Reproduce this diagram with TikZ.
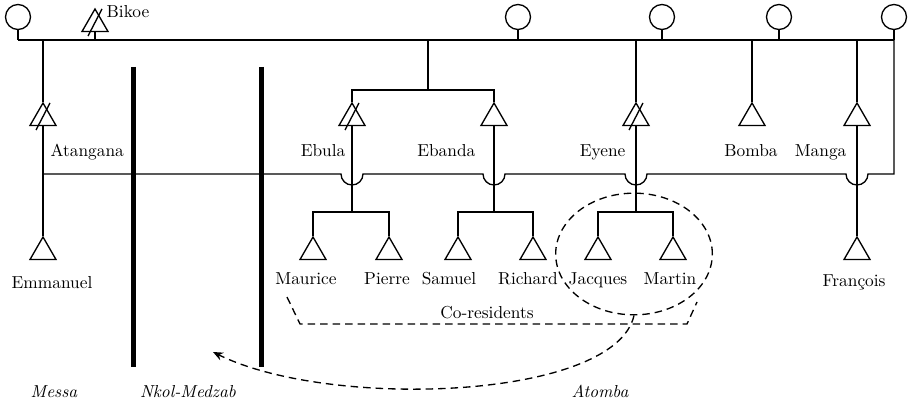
\documentclass[tikz,border=0pt]{standalone}
\usetikzlibrary{shapes, arrows, arrows.meta, calc}

\begin{document}
\begin{tikzpicture}[x=0.6pt, y=-0.6pt, >={Stealth[length=6pt, width=5pt]}, line width=0.8pt,
                    font=\fontsize{10.4}{12}\selectfont]
\tikzset{
  man/.style={draw, regular polygon, regular polygon sides=3,
              minimum size=18pt, inner sep=0pt},
  woman/.style={draw, circle, minimum size=15pt, inner sep=0pt},
  lbl/.style={inner sep=0pt, text height=1.5ex, text depth=.25ex},
  place/.style={lbl, font=\fontsize{10.4}{12}\selectfont\itshape},
  wall/.style={line width=3pt}
  };

\def\top{40}  % line of the first generation
\def\ml{174}  % marriage line
\def\kb{212}  % bar of the children
\def\r{11}    % radius of a bump

\newcommand{\dead}[1]{\draw ($(#1)+(-7,12)$) -- ($(#1)+(7,-15)$);}

\useasboundingbox (0,0) rectangle (908,406);

% women of the first generation
\node[woman] (W1) at (18,17)  {};
\node[woman] (W2) at (518,17) {};
\node[woman] (W3) at (662,17) {};
\node[woman] (W4) at (779,17) {};
\node[woman] (W5) at (894,17) {};

% men
\node[man] (Bik) at (95,24)   {};
\node[man] (Ata) at (43,118)  {};
\node[man] (Ebu) at (352,118) {};
\node[man] (Eba) at (494,118) {};
\node[man] (Eye) at (636,118) {};
\node[man] (Bom) at (752,118) {};
\node[man] (Man) at (857,118) {};

\node[man] (Emm) at (43,252)  {};
\node[man] (Mau) at (313,252) {};
\node[man] (Pie) at (389,252) {};
\node[man] (Sam) at (458,252) {};
\node[man] (Ric) at (533,252) {};
\node[man] (Jac) at (598,252) {};
\node[man] (Mar) at (673,252) {};
\node[man] (Fra) at (857,252) {};

\dead{Bik} \dead{Ata} \dead{Ebu} \dead{Eye}

% names
\node[lbl, anchor=west] at (106,13)  {Bikoe};
\node[lbl, anchor=west] at (50,152)  {Atangana};
\node[lbl, anchor=east] at (346,152) {Ebula};
\node[lbl, anchor=east] at (476,152) {Ebanda};
\node[lbl, anchor=east] at (626,152) {Eyene};
\node[lbl]              at (751,152) {Bomba};
\node[lbl, anchor=east] at (847,152) {Manga};

\node[lbl] at (52,284)  {Emmanuel};
\node[lbl] at (306,280) {Maurice};
\node[lbl] at (387,280) {Pierre};
\node[lbl] at (449,280) {Samuel};
\node[lbl] at (528,280) {Richard};
\node[lbl] at (598,280) {Jacques};
\node[lbl] at (670,280) {Martin};
\node[lbl] at (854,282) {François};

\node[place] at (54,393)  {Messa};
\node[place] at (188,393) {Nkol-Medzab};
\node[place] at (600,393) {Atomba};

% first generation
\draw (W1.south |- 0,\top) -- (W5.south |- 0,\top);
\foreach \w in {W1, W2, W3, W4, W5}
  \draw (\w.south) -- (\w.south |- 0,\top);
\draw (Bik.side 2) -- (Bik.side 2 |- 0,\top);
\draw (Ata.corner 1 |- 0,\top) -- (Ata.corner 1);
\draw (428,\top) -- (428,90);
\draw (Ebu.corner 1) -- (Ebu.corner 1 |- 0,90) -- (Eba.corner 1 |- 0,90) -- (Eba.corner 1);
\foreach \m in {Eye, Bom, Man}
  \draw (\m.corner 1 |- 0,\top) -- (\m.corner 1);

% marriage line, jumping over the lines of descent
\draw (Ata |- 0,\ml)
  -- ($(Ebu |- 0,\ml)+(-\r,0)$) arc[start angle=180, end angle=0, radius=\r]
  -- ($(Eba |- 0,\ml)+(-\r,0)$) arc[start angle=180, end angle=0, radius=\r]
  -- ($(Eye |- 0,\ml)+(-\r,0)$) arc[start angle=180, end angle=0, radius=\r]
  -- ($(Man |- 0,\ml)+(-\r,0)$) arc[start angle=180, end angle=0, radius=\r]
  -- (W5.south |- 0,\ml) -- (W5.south |- 0,\top);

% second generation
\draw (Ata.side 2) -- (Emm.corner 1);
\draw (Man.side 2) -- (Fra.corner 1);
\draw (Ebu.side 2) -- (Ebu |- 0,\kb);
\draw (Eba.side 2) -- (Eba |- 0,\kb);
\draw (Eye.side 2) -- (Eye |- 0,\kb);
\draw (Mau.corner 1) -- (Mau.corner 1 |- 0,\kb) -- (Pie.corner 1 |- 0,\kb) -- (Pie.corner 1);
\draw (Sam.corner 1) -- (Sam.corner 1 |- 0,\kb) -- (Ric.corner 1 |- 0,\kb) -- (Ric.corner 1);
\draw (Jac.corner 1) -- (Jac.corner 1 |- 0,\kb) -- (Mar.corner 1 |- 0,\kb) -- (Mar.corner 1);

% boundaries of the villages
\draw[wall] (133,67) -- (133,367);
\draw[wall] (261,67) -- (261,367);

% co-residents and move
\begin{scope}[dash pattern=on 4.5pt off 3pt]
\node[draw, ellipse, minimum width=94pt, minimum height=73pt, inner sep=0pt]
  (Pair) at (634,254) {};
\draw (287,297) -- (300,324) -- (687,324) -- (697,302);
\node[lbl] at (487,314) {Co-residents};
\coordinate (Move) at (213,352);
\draw[->] (Pair.south) .. controls (615,400) and (330,410) .. (Move);
\end{scope}

\end{tikzpicture}
\end{document}
